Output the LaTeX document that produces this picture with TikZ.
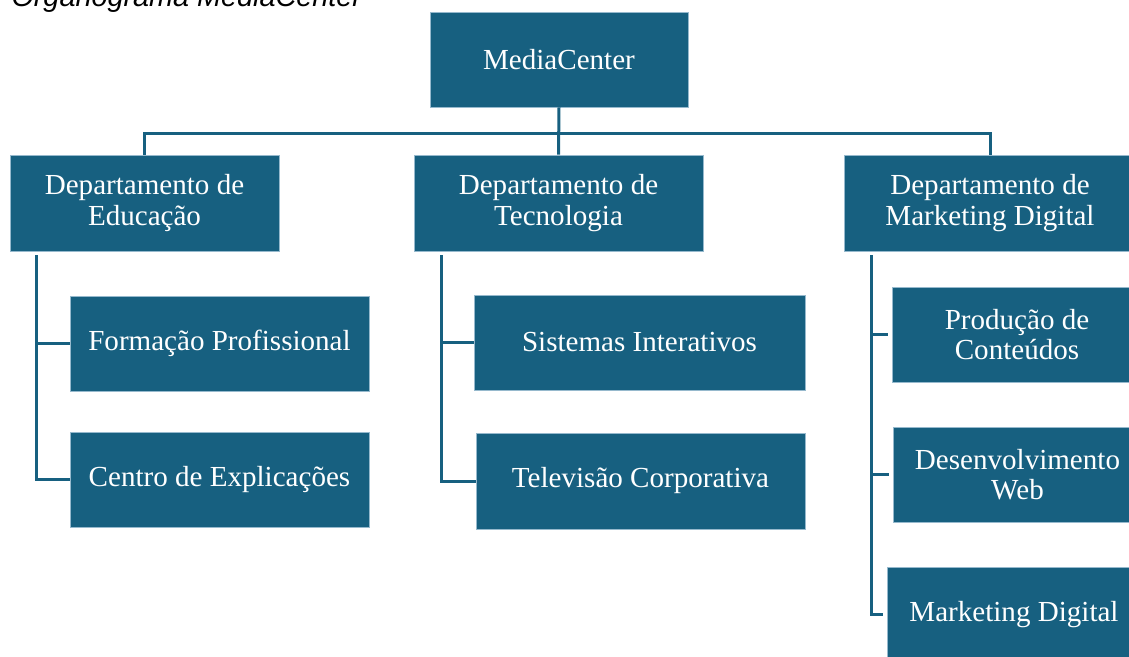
\documentclass[tikz,border=0pt]{standalone}
\usepackage{fontspec}
\setmainfont{Liberation Serif}
\newfontfamily\titlefont{Liberation Sans}
\definecolor{orgblue}{RGB}{23,96,128}
\definecolor{orgedge}{RGB}{150,185,205}
\begin{document}
\begin{tikzpicture}[x=0.75pt, y=-0.75pt, line width=2.25pt,
    box/.style={fill=orgblue, draw=orgedge, line width=0.5pt, text=white, align=center,
      inner sep=0pt, minimum height=72pt, font=\fontsize{21.8}{23}\selectfont},
    link/.style={draw=orgblue, line width=2.25pt}]
				\useasboundingbox (0,0) rectangle (1129,657);
				% Organograma MediaCenter
				\node[anchor=base west, inner sep=0pt, font=\titlefont\itshape\fontsize{21.6}{24}\selectfont] (title) at (10,6) {Organograma MediaCenter};
				\node[box, minimum width=193.5pt, minimum height=71.25pt] (mc) at (559,59.5) {MediaCenter};
				
				\node[box, minimum width=201.75pt] (edu) at (144.5,203) {Departamento de\\Educação};
				\node[box, minimum width=216.75pt] (tec) at (558.5,203) {Departamento de\\Tecnologia};
				\node[box, minimum width=219pt] (mkt) at (990,203) {Departamento de\\Marketing Digital};
				
				\node[box, minimum width=224.25pt, minimum height=71.25pt] (fp) at (219.5,343.5) {Formação Profissional};
				\node[box, minimum width=224.25pt, minimum height=71.25pt] (ce) at (219.5,479.5) {Centro de Explicações};
				
				\node[box, minimum width=248.25pt, minimum height=71.25pt] (si) at (639.5,342.5) {Sistemas Interativos};
				\node[box, minimum width=246.75pt] (tv) at (640.5,481) {Televisão Corporativa};
				
				\node[box, minimum width=187.5pt, minimum height=71.25pt] (pc) at (1017,334.5) {Produção de\\Conteúdos};
				\node[box, minimum width=186.75pt, minimum height=71.25pt] (dw) at (1017.5,474.5) {Desenvolvimento\\Web};
				\node[box, minimum width=190.5pt, minimum height=71.25pt] (md) at (1014,614.5) {Marketing Digital};
				
				\coordinate (bar) at (559,133);
				\draw[link] (mc.south) -- (tec.north);
				\draw[link] (edu.north) |- (bar) -| (mkt.north);
				
				\coordinate (eduroot) at ([xshift=20.25pt, yshift=-3pt]edu.south west);
				\coordinate (tecroot) at ([xshift=21pt, yshift=-3pt]tec.south west);
				\coordinate (mktroot) at ([xshift=21pt, yshift=-3pt]mkt.south west);
				\draw[link] (eduroot) |- (fp.west);
				\draw[link] (eduroot) |- (ce.west);
				\draw[link] (tecroot) |- (si.west);
				\draw[link] (tecroot) |- (tv.west);
				\draw[link] (mktroot) |- ([xshift=-3pt]pc.west);
				\draw[link] (mktroot) |- ([xshift=-3pt]dw.west);
				\draw[link] (mktroot) |- ([xshift=-3pt]md.west);
			\end{tikzpicture}
\end{document}
